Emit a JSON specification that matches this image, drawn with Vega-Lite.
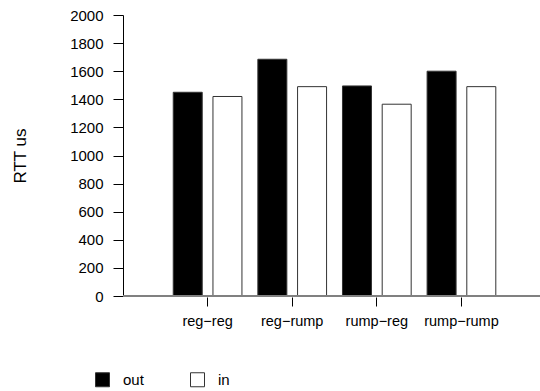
{
  "$schema": "https://vega.github.io/schema/vega-lite/v6.json",
  "autosize": "none",
  "width": 417,
  "height": 281,
  "padding": {"left": 123, "top": 15, "right": 0, "bottom": 95},
  "background": "white",
  "config": {
    "view": {"stroke": null},
    "font": "Liberation Sans",
    "axis": {"grid": false, "labelFont": "Liberation Sans", "titleFont": "Liberation Sans", "labelColor": "black", "titleColor": "black", "tickColor": "black", "domainColor": "black"}
  },
  "data": {
    "values": [
      {"pair": "reg−reg", "dir": "out", "rtt": 1450},
      {"pair": "reg−reg", "dir": "in", "rtt": 1420},
      {"pair": "reg−rump", "dir": "out", "rtt": 1685},
      {"pair": "reg−rump", "dir": "in", "rtt": 1490},
      {"pair": "rump−reg", "dir": "out", "rtt": 1495},
      {"pair": "rump−reg", "dir": "in", "rtt": 1365},
      {"pair": "rump−rump", "dir": "out", "rtt": 1600},
      {"pair": "rump−rump", "dir": "in", "rtt": 1490}
    ]
  },
  "layer": [
    {
      "mark": {"type": "bar", "stroke": "#333333", "strokeWidth": 1},
      "encoding": {
        "x": {
          "field": "pair", "type": "nominal", "sort": null,
          "scale": {"paddingInner": 0.188, "paddingOuter": 0.558, "align": 0.532},
          "axis": {"title": null, "labelAngle": 0, "domain": false, "offset": 1, "tickSize": 9, "tickWidth": 1, "labelFontSize": 14.5, "labelPadding": 8}
        },
        "xOffset": {"field": "dir", "type": "nominal", "sort": ["out", "in"], "scale": {"paddingInner": 0.27, "paddingOuter": 0}},
        "y": {
          "field": "rtt", "type": "quantitative",
          "scale": {"domain": [0, 2000], "nice": false, "zero": true},
          "axis": {"title": "RTT us", "values": [0, 200, 400, 600, 800, 1000, 1200, 1400, 1600, 1800, 2000], "format": "d", "labelOverlap": false, "labelBound": false, "labelFlush": false, "tickSize": 10, "labelPadding": 10, "labelFontSize": 15, "titleFontSize": 17, "titleFontWeight": "normal", "titlePadding": 40}
        },
        "fill": {
          "field": "dir", "type": "nominal",
          "scale": {"domain": ["out", "in"], "range": ["black", "white"]},
          "legend": {
            "title": null, "orient": "none", "legendX": -28, "legendY": 357,
            "direction": "horizontal", "columns": 2, "gridAlign": "all",
            "symbolType": "square", "symbolSize": 196, "symbolStrokeColor": "#333333", "symbolStrokeWidth": 1,
            "labelFontSize": 15, "labelOffset": 13, "columnPadding": 44
          }
        }
      }
    },
    {
      "mark": {"type": "rule", "color": "#808080", "strokeWidth": 1.5},
      "encoding": {
        "y": {
          "datum": 0, "type": "quantitative",
          "axis": {"title": "RTT us", "values": [0, 200, 400, 600, 800, 1000, 1200, 1400, 1600, 1800, 2000], "format": "d", "labelOverlap": false, "labelBound": false, "labelFlush": false, "tickSize": 10, "labelPadding": 10, "labelFontSize": 15, "titleFontSize": 17, "titleFontWeight": "normal", "titlePadding": 40}
        }
      }
    }
  ]
}
